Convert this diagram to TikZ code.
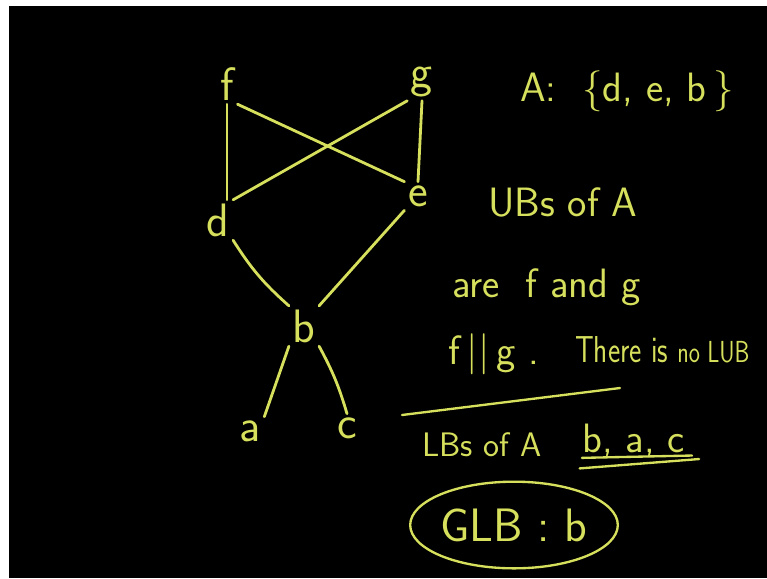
\documentclass[tikz,border=0pt]{standalone}
\usepackage{tikz}
\usetikzlibrary{positioning,shapes.geometric}
\usepackage{xcolor}
\definecolor{chalk}{RGB}{214,224,92}

\begin{document}
\begin{tikzpicture}[
    x=0.03cm, y=-0.03cm,
    elem/.style={text=chalk, font=\fontsize{40}{44}\selectfont\sffamily, inner sep=3pt},
    note/.style={text=chalk, font=\fontsize{35}{40}\selectfont\sffamily, inner sep=0pt},
    link/.style={draw=chalk, line width=2.4pt, line cap=round}
]
    \useasboundingbox[fill=white] (0,0) rectangle (767,578);
    \fill[black] (9,6) rectangle (767,578);

    % the poset
    \node[elem] (f) at (227,84) {f};
    \node[elem] (g) at (422,82) {g};
    \node[elem] (d) at (218,220) {d};
    \node[elem] (e) at (418,196) {e};
    \node[elem] (b) at (304,326) {b};
    \node[elem] (a) at (250,431) {a};
    \node[elem] (c) at (347,428) {c};

    \draw[link] (f.south) -- (f.south |- d.north);
    \draw[link] (g.south) -- (e.north);
    \draw[link] (f.south east) -- (e.north west);
    \draw[link] (d.north east) -- (g.south west);
    \draw[link] (e.south west) -- (b.north east);
    \draw[link] (d.south east) to[bend right=8] (b.north west);
    \draw[link] (b.south west) -- (a.north east);
    \draw[link] (b.south east) to[bend left=6] (c.north);

    % bounds of A
    \node[note, anchor=base west] (set) at (520,101) {A:\ \ \{d, e, b\,\}};
    \node[note, anchor=base west] (ubs) at (488,216) {UBs of A};
    \node[note, anchor=base west] (ubare) at (452,297) {are\ \ f and g};
    \node[note, anchor=base west] (nolub) at (448,364) {f\,||\,g .};
    \node[note, anchor=base west, xscale=0.78, transform shape, font=\fontsize{32}{36}\selectfont\sffamily] (lubnote) at (575,362) {There is {\fontsize{26}{30}\selectfont no LUB}};
    \draw[link, line width=2pt] (402,415) -- (620,388);
    \node[note, anchor=base west, font=\fontsize{29}{34}\selectfont\sffamily] (lbs) at (422,456) {LBs of A};
    \node[note, anchor=base west] (lbset) at (582,452) {b, a, c};
    \draw[link, line width=2pt] ([yshift=-5pt]lbset.base west) -- ([xshift=6pt,yshift=-3pt]lbset.base east);
    \draw[link, line width=2pt] ([xshift=-2pt,yshift=-14pt]lbset.base west) -- ([xshift=12pt,yshift=-6pt]lbset.base east);
    \node[note, ellipse, draw=chalk, line width=2pt, font=\fontsize{40}{44}\selectfont\sffamily, minimum width=5.9cm, minimum height=2.6cm] (glb) at (514,525) {GLB\ :\ b};
\end{tikzpicture}
\end{document}
